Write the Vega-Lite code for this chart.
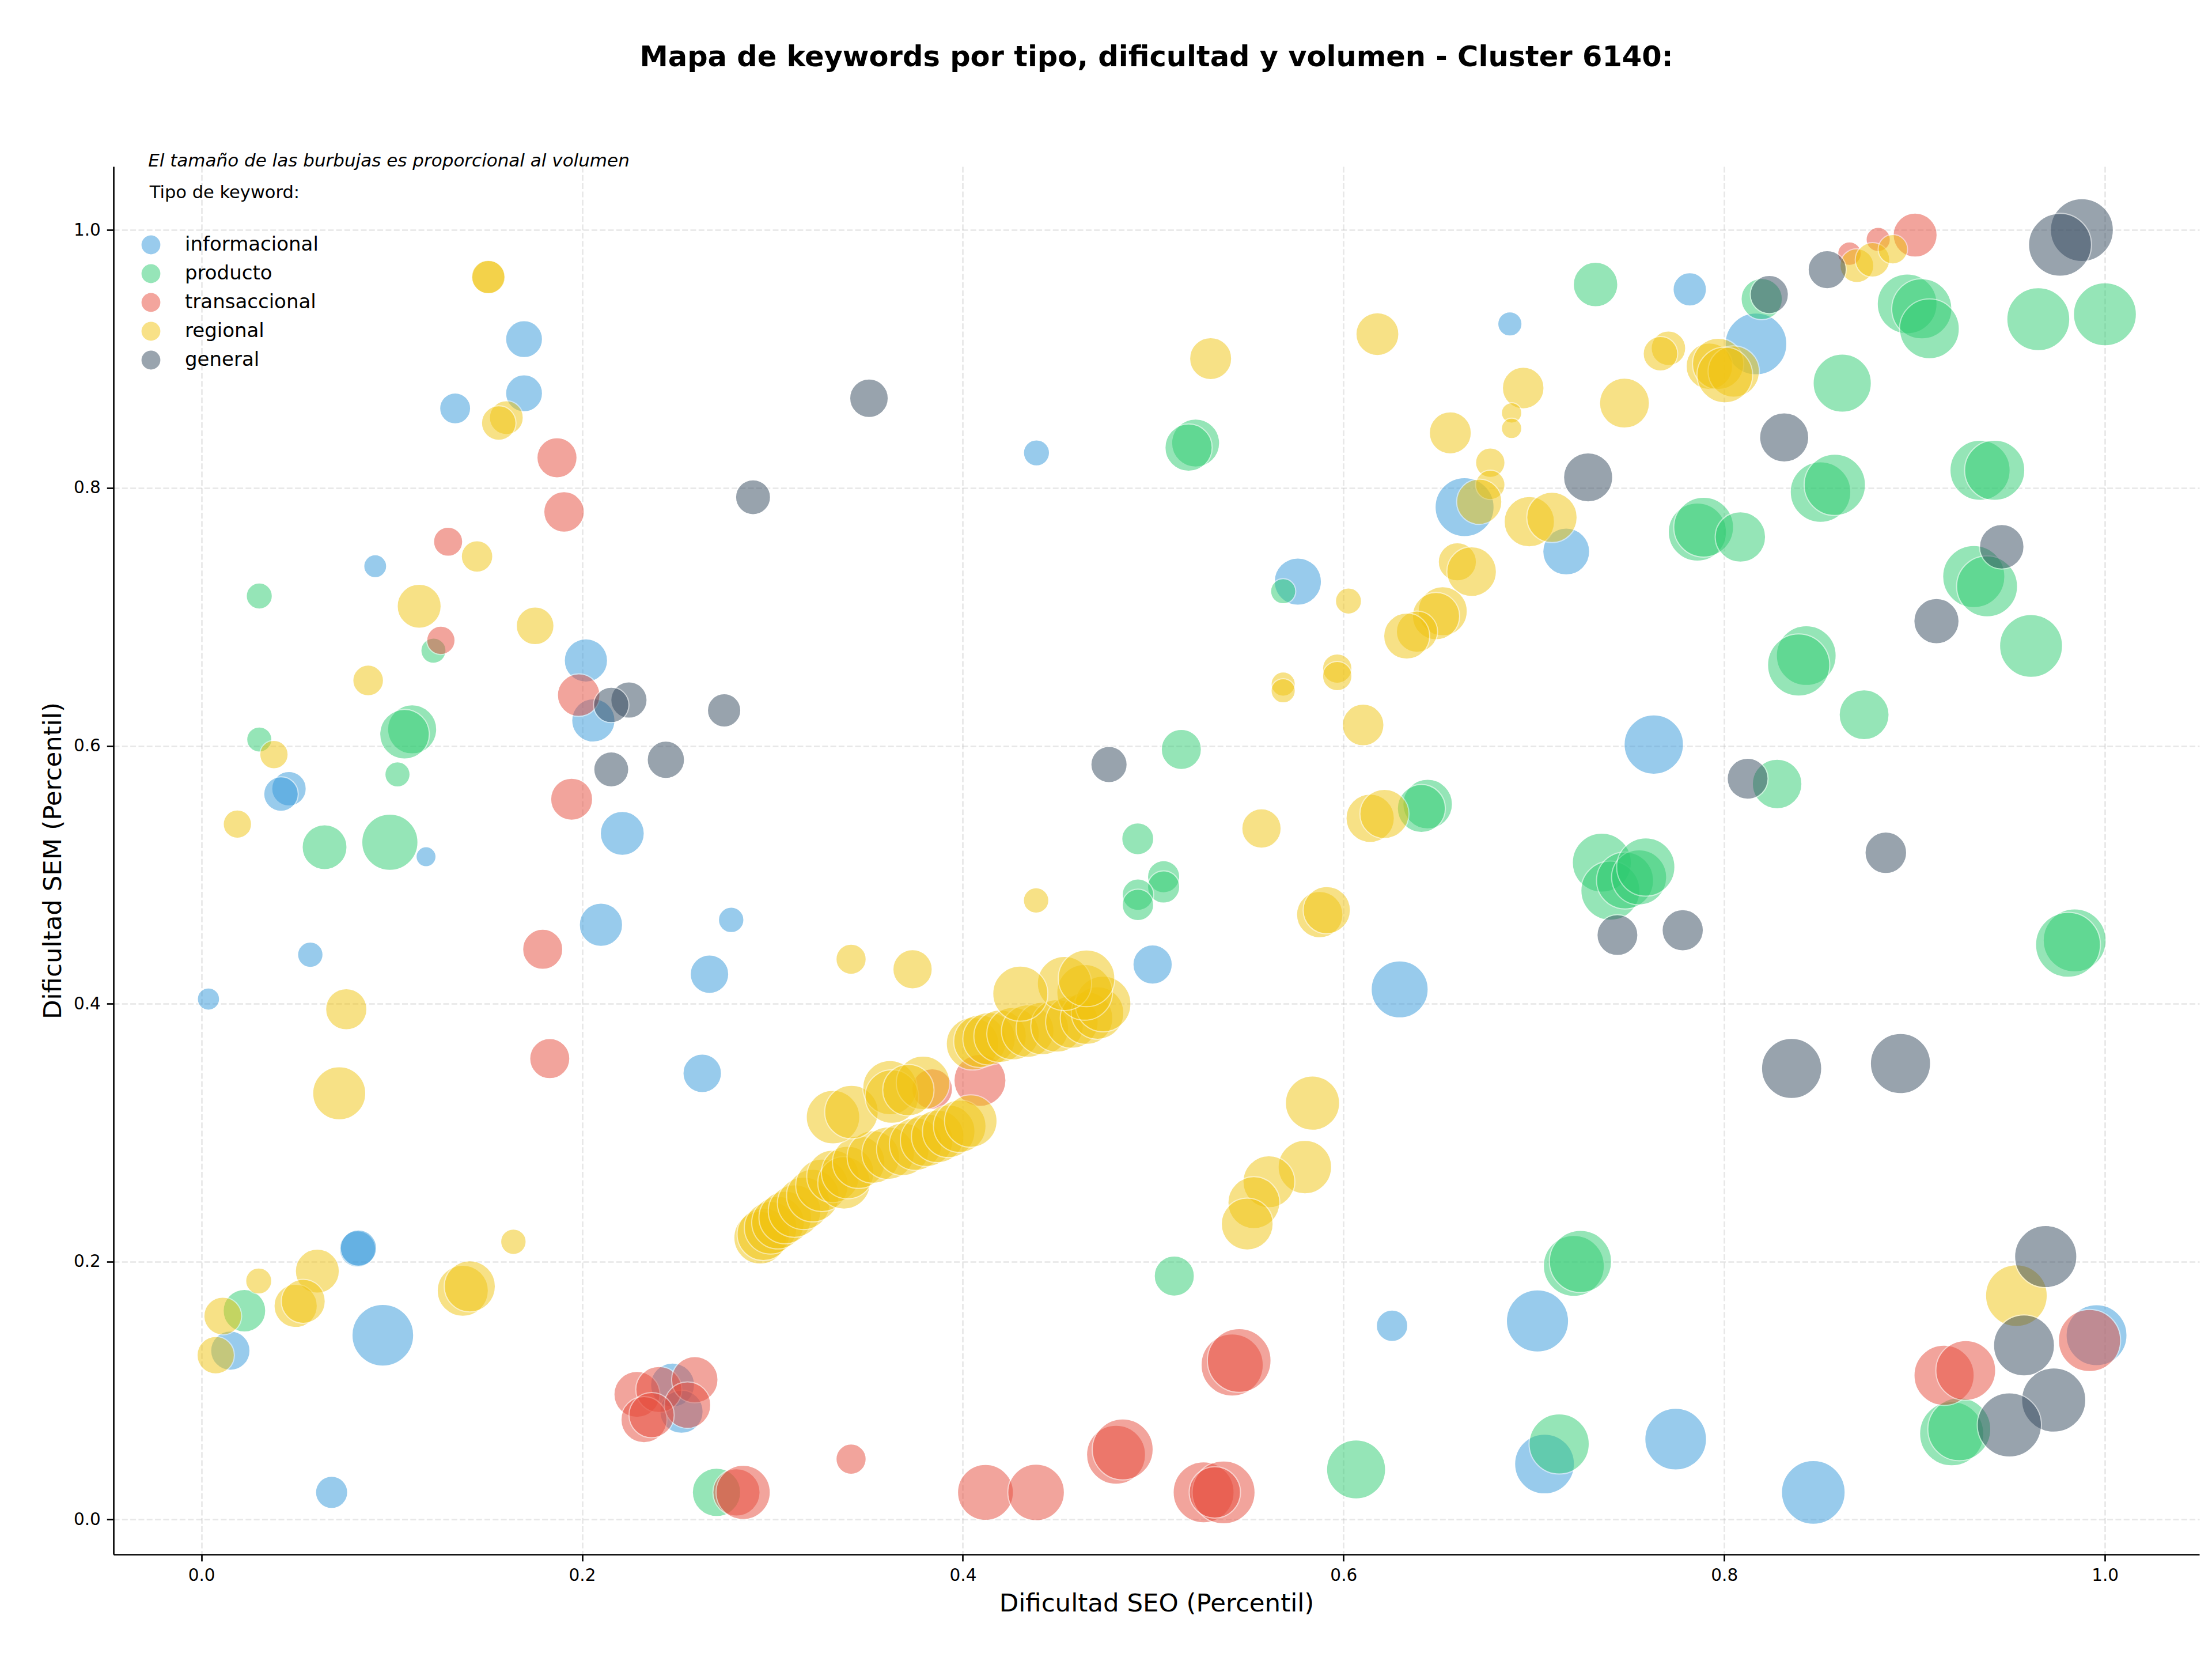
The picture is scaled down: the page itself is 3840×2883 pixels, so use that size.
{
"$schema": "https://vega.github.io/schema/vega-lite/v6.json",
"width": 3621, "height": 2409,
"autosize": {"type": "none"},
"padding": {"left": 197, "top": 289, "right": 22, "bottom": 185},
"background": "white",
"title": {"text": "Mapa de keywords por tipo, dificultad y volumen - Cluster 6140:", "anchor": "middle", "frame": "group", "baseline": "alphabetic", "offset": 100, "fontSize": 49.5, "font": "DejaVu Sans", "fontWeight": "bold", "color": "black"},
"layer": [
{
"data": {"values": [
{"tipo":"informacional","seo":0.1695,"sem":0.9154,"volumen":88},
{"tipo":"informacional","seo":0.1695,"sem":0.8734,"volumen":88},
{"tipo":"informacional","seo":0.1333,"sem":0.8617,"volumen":62},
{"tipo":"informacional","seo":0.0913,"sem":0.7393,"volumen":34},
{"tipo":"informacional","seo":0.2020,"sem":0.6662,"volumen":121},
{"tipo":"informacional","seo":0.2059,"sem":0.6197,"volumen":121},
{"tipo":"informacional","seo":0.0460,"sem":0.5667,"volumen":77},
{"tipo":"informacional","seo":0.0418,"sem":0.5626,"volumen":77},
{"tipo":"informacional","seo":0.2211,"sem":0.5321,"volumen":125},
{"tipo":"informacional","seo":0.1180,"sem":0.5140,"volumen":26},
{"tipo":"informacional","seo":0.4387,"sem":0.8272,"volumen":44},
{"tipo":"informacional","seo":0.6636,"sem":0.7851,"volumen":225},
{"tipo":"informacional","seo":0.5760,"sem":0.7274,"volumen":144},
{"tipo":"informacional","seo":0.6874,"sem":0.9272,"volumen":38},
{"tipo":"informacional","seo":0.7819,"sem":0.9540,"volumen":72},
{"tipo":"informacional","seo":0.8167,"sem":0.9117,"volumen":246},
{"tipo":"informacional","seo":0.7170,"sem":0.7507,"volumen":142},
{"tipo":"informacional","seo":0.7630,"sem":0.6010,"volumen":228},
{"tipo":"informacional","seo":0.2099,"sem":0.4612,"volumen":121},
{"tipo":"informacional","seo":0.0572,"sem":0.4380,"volumen":42},
{"tipo":"informacional","seo":0.2783,"sem":0.4650,"volumen":42},
{"tipo":"informacional","seo":0.2669,"sem":0.4229,"volumen":96},
{"tipo":"informacional","seo":0.0037,"sem":0.4036,"volumen":32},
{"tipo":"informacional","seo":0.2631,"sem":0.3460,"volumen":96},
{"tipo":"informacional","seo":0.0820,"sem":0.2098,"volumen":85},
{"tipo":"informacional","seo":0.0825,"sem":0.2105,"volumen":85},
{"tipo":"informacional","seo":0.0152,"sem":0.1309,"volumen":100},
{"tipo":"informacional","seo":0.0953,"sem":0.1429,"volumen":246},
{"tipo":"informacional","seo":0.0684,"sem":0.0210,"volumen":67},
{"tipo":"informacional","seo":0.2475,"sem":0.1043,"volumen":125},
{"tipo":"informacional","seo":0.2522,"sem":0.0836,"volumen":121},
{"tipo":"informacional","seo":0.4997,"sem":0.4304,"volumen":100},
{"tipo":"informacional","seo":0.6295,"sem":0.4111,"volumen":210},
{"tipo":"informacional","seo":0.6255,"sem":0.1502,"volumen":64},
{"tipo":"informacional","seo":0.7019,"sem":0.1540,"volumen":250},
{"tipo":"informacional","seo":0.9956,"sem":0.1429,"volumen":240},
{"tipo":"informacional","seo":0.7056,"sem":0.0430,"volumen":231},
{"tipo":"informacional","seo":0.7745,"sem":0.0623,"volumen":246},
{"tipo":"informacional","seo":0.8468,"sem":0.0210,"volumen":262},
{"tipo":"producto","seo":0.0304,"sem":0.7162,"volumen":44},
{"tipo":"producto","seo":0.1219,"sem":0.6738,"volumen":41},
{"tipo":"producto","seo":0.1107,"sem":0.6128,"volumen":156},
{"tipo":"producto","seo":0.1067,"sem":0.6090,"volumen":159},
{"tipo":"producto","seo":0.0304,"sem":0.6049,"volumen":41},
{"tipo":"producto","seo":0.1030,"sem":0.5778,"volumen":41},
{"tipo":"producto","seo":0.0647,"sem":0.5214,"volumen":130},
{"tipo":"producto","seo":0.0990,"sem":0.5252,"volumen":204},
{"tipo":"producto","seo":0.5223,"sem":0.8348,"volumen":149},
{"tipo":"producto","seo":0.5186,"sem":0.8313,"volumen":144},
{"tipo":"producto","seo":0.5683,"sem":0.7199,"volumen":41},
{"tipo":"producto","seo":0.5148,"sem":0.5972,"volumen":104},
{"tipo":"producto","seo":0.4919,"sem":0.5279,"volumen":66},
{"tipo":"producto","seo":0.6442,"sem":0.5548,"volumen":159},
{"tipo":"producto","seo":0.6409,"sem":0.5514,"volumen":149},
{"tipo":"producto","seo":0.7324,"sem":0.9578,"volumen":128},
{"tipo":"producto","seo":0.8197,"sem":0.9465,"volumen":110},
{"tipo":"producto","seo":0.8961,"sem":0.9427,"volumen":231},
{"tipo":"producto","seo":0.9038,"sem":0.9389,"volumen":234},
{"tipo":"producto","seo":0.9078,"sem":0.9234,"volumen":231},
{"tipo":"producto","seo":0.9650,"sem":0.9309,"volumen":256},
{"tipo":"producto","seo":1.0000,"sem":0.9347,"volumen":256},
{"tipo":"producto","seo":0.8620,"sem":0.8813,"volumen":219},
{"tipo":"producto","seo":0.7859,"sem":0.7658,"volumen":219},
{"tipo":"producto","seo":0.7892,"sem":0.7696,"volumen":231},
{"tipo":"producto","seo":0.8085,"sem":0.7620,"volumen":164},
{"tipo":"producto","seo":0.8506,"sem":0.7968,"volumen":237},
{"tipo":"producto","seo":0.8581,"sem":0.8024,"volumen":243},
{"tipo":"producto","seo":0.9344,"sem":0.8137,"volumen":234},
{"tipo":"producto","seo":0.9421,"sem":0.8137,"volumen":234},
{"tipo":"producto","seo":0.9311,"sem":0.7313,"volumen":250},
{"tipo":"producto","seo":0.9381,"sem":0.7237,"volumen":240},
{"tipo":"producto","seo":0.9612,"sem":0.6775,"volumen":256},
{"tipo":"producto","seo":0.8431,"sem":0.6700,"volumen":231},
{"tipo":"producto","seo":0.8391,"sem":0.6627,"volumen":250},
{"tipo":"producto","seo":0.8735,"sem":0.6241,"volumen":161},
{"tipo":"producto","seo":0.8278,"sem":0.5704,"volumen":159},
{"tipo":"producto","seo":0.5055,"sem":0.4985,"volumen":67},
{"tipo":"producto","seo":0.5055,"sem":0.4905,"volumen":67},
{"tipo":"producto","seo":0.4920,"sem":0.4846,"volumen":64},
{"tipo":"producto","seo":0.4920,"sem":0.4766,"volumen":64},
{"tipo":"producto","seo":0.5111,"sem":0.1888,"volumen":104},
{"tipo":"producto","seo":0.6066,"sem":0.0388,"volumen":225},
{"tipo":"producto","seo":0.7357,"sem":0.5094,"volumen":225},
{"tipo":"producto","seo":0.7402,"sem":0.4877,"volumen":225},
{"tipo":"producto","seo":0.7479,"sem":0.4956,"volumen":210},
{"tipo":"producto","seo":0.7553,"sem":0.4980,"volumen":196},
{"tipo":"producto","seo":0.7588,"sem":0.5060,"volumen":219},
{"tipo":"producto","seo":0.9841,"sem":0.4491,"volumen":256},
{"tipo":"producto","seo":0.9806,"sem":0.4457,"volumen":272},
{"tipo":"producto","seo":0.7210,"sem":0.1967,"volumen":240},
{"tipo":"producto","seo":0.7245,"sem":0.2001,"volumen":250},
{"tipo":"producto","seo":0.9195,"sem":0.0665,"volumen":266},
{"tipo":"producto","seo":0.9235,"sem":0.0700,"volumen":256},
{"tipo":"producto","seo":0.7133,"sem":0.0586,"volumen":234},
{"tipo":"producto","seo":0.0226,"sem":0.1619,"volumen":117},
{"tipo":"producto","seo":0.2706,"sem":0.0210,"volumen":151},
{"tipo":"transaccional","seo":0.1868,"sem":0.8234,"volumen":104},
{"tipo":"transaccional","seo":0.1905,"sem":0.7814,"volumen":106},
{"tipo":"transaccional","seo":0.1296,"sem":0.7583,"volumen":55},
{"tipo":"transaccional","seo":0.1258,"sem":0.6818,"volumen":52},
{"tipo":"transaccional","seo":0.1982,"sem":0.6393,"volumen":117},
{"tipo":"transaccional","seo":0.1945,"sem":0.5586,"volumen":114},
{"tipo":"transaccional","seo":0.8658,"sem":0.9817,"volumen":36},
{"tipo":"transaccional","seo":0.8809,"sem":0.9927,"volumen":38},
{"tipo":"transaccional","seo":0.9003,"sem":0.9961,"volumen":125},
{"tipo":"transaccional","seo":0.1793,"sem":0.4422,"volumen":104},
{"tipo":"transaccional","seo":0.1830,"sem":0.3574,"volumen":104},
{"tipo":"transaccional","seo":0.2288,"sem":0.0970,"volumen":137},
{"tipo":"transaccional","seo":0.2403,"sem":0.1008,"volumen":137},
{"tipo":"transaccional","seo":0.2592,"sem":0.1084,"volumen":139},
{"tipo":"transaccional","seo":0.2554,"sem":0.0887,"volumen":139},
{"tipo":"transaccional","seo":0.2325,"sem":0.0774,"volumen":137},
{"tipo":"transaccional","seo":0.2365,"sem":0.0809,"volumen":132},
{"tipo":"transaccional","seo":0.2811,"sem":0.0210,"volumen":144},
{"tipo":"transaccional","seo":0.2846,"sem":0.0210,"volumen":190},
{"tipo":"transaccional","seo":0.3839,"sem":0.3338,"volumen":107},
{"tipo":"transaccional","seo":0.4090,"sem":0.3405,"volumen":175},
{"tipo":"transaccional","seo":0.5415,"sem":0.1198,"volumen":250},
{"tipo":"transaccional","seo":0.5452,"sem":0.1233,"volumen":262},
{"tipo":"transaccional","seo":0.3413,"sem":0.0468,"volumen":59},
{"tipo":"transaccional","seo":0.4119,"sem":0.0210,"volumen":202},
{"tipo":"transaccional","seo":0.4385,"sem":0.0210,"volumen":207},
{"tipo":"transaccional","seo":0.4805,"sem":0.0502,"volumen":225},
{"tipo":"transaccional","seo":0.4840,"sem":0.0543,"volumen":240},
{"tipo":"transaccional","seo":0.5265,"sem":0.0210,"volumen":240},
{"tipo":"transaccional","seo":0.5370,"sem":0.0210,"volumen":256},
{"tipo":"transaccional","seo":0.5324,"sem":0.0210,"volumen":170},
{"tipo":"transaccional","seo":0.9919,"sem":0.1388,"volumen":250},
{"tipo":"transaccional","seo":0.9155,"sem":0.1118,"volumen":234},
{"tipo":"transaccional","seo":0.9269,"sem":0.1156,"volumen":231},
{"tipo":"regional","seo":0.1506,"sem":0.9637,"volumen":72},
{"tipo":"regional","seo":0.1508,"sem":0.9635,"volumen":72},
{"tipo":"regional","seo":0.1602,"sem":0.8545,"volumen":74},
{"tipo":"regional","seo":0.1562,"sem":0.8503,"volumen":77},
{"tipo":"regional","seo":0.1448,"sem":0.7469,"volumen":64},
{"tipo":"regional","seo":0.1144,"sem":0.7083,"volumen":125},
{"tipo":"regional","seo":0.1753,"sem":0.6931,"volumen":92},
{"tipo":"regional","seo":0.0876,"sem":0.6507,"volumen":61},
{"tipo":"regional","seo":0.0381,"sem":0.5932,"volumen":52},
{"tipo":"regional","seo":0.0189,"sem":0.5393,"volumen":52},
{"tipo":"regional","seo":0.5302,"sem":0.9003,"volumen":114},
{"tipo":"regional","seo":0.6178,"sem":0.9193,"volumen":119},
{"tipo":"regional","seo":0.6561,"sem":0.8427,"volumen":114},
{"tipo":"regional","seo":0.6771,"sem":0.8196,"volumen":56},
{"tipo":"regional","seo":0.6771,"sem":0.8024,"volumen":56},
{"tipo":"regional","seo":0.6713,"sem":0.7893,"volumen":132},
{"tipo":"regional","seo":0.6598,"sem":0.7427,"volumen":94},
{"tipo":"regional","seo":0.6673,"sem":0.7351,"volumen":159},
{"tipo":"regional","seo":0.6026,"sem":0.7123,"volumen":44},
{"tipo":"regional","seo":0.6521,"sem":0.7044,"volumen":156},
{"tipo":"regional","seo":0.6486,"sem":0.7006,"volumen":144},
{"tipo":"regional","seo":0.6386,"sem":0.6885,"volumen":110},
{"tipo":"regional","seo":0.6332,"sem":0.6851,"volumen":137},
{"tipo":"regional","seo":0.5967,"sem":0.6599,"volumen":56},
{"tipo":"regional","seo":0.5967,"sem":0.6541,"volumen":56},
{"tipo":"regional","seo":0.5683,"sem":0.6479,"volumen":38},
{"tipo":"regional","seo":0.5683,"sem":0.6427,"volumen":38},
{"tipo":"regional","seo":0.6103,"sem":0.6162,"volumen":112},
{"tipo":"regional","seo":0.5569,"sem":0.5359,"volumen":100},
{"tipo":"regional","seo":0.6140,"sem":0.5438,"volumen":151},
{"tipo":"regional","seo":0.6215,"sem":0.5472,"volumen":156},
{"tipo":"regional","seo":0.7707,"sem":0.9083,"volumen":77},
{"tipo":"regional","seo":0.7665,"sem":0.9041,"volumen":77},
{"tipo":"regional","seo":0.7922,"sem":0.8944,"volumen":140},
{"tipo":"regional","seo":0.7968,"sem":0.8962,"volumen":170},
{"tipo":"regional","seo":0.8050,"sem":0.8903,"volumen":170},
{"tipo":"regional","seo":0.8003,"sem":0.8876,"volumen":200},
{"tipo":"regional","seo":0.6944,"sem":0.8775,"volumen":112},
{"tipo":"regional","seo":0.6883,"sem":0.8582,"volumen":27},
{"tipo":"regional","seo":0.6883,"sem":0.8462,"volumen":27},
{"tipo":"regional","seo":0.7476,"sem":0.8658,"volumen":161},
{"tipo":"regional","seo":0.8697,"sem":0.9724,"volumen":74},
{"tipo":"regional","seo":0.8779,"sem":0.9769,"volumen":77},
{"tipo":"regional","seo":0.8886,"sem":0.9851,"volumen":56},
{"tipo":"regional","seo":0.6976,"sem":0.7738,"volumen":164},
{"tipo":"regional","seo":0.7095,"sem":0.7772,"volumen":164},
{"tipo":"regional","seo":0.0761,"sem":0.3957,"volumen":110},
{"tipo":"regional","seo":0.0724,"sem":0.3305,"volumen":182},
{"tipo":"regional","seo":0.1639,"sem":0.2154,"volumen":42},
{"tipo":"regional","seo":0.0609,"sem":0.1926,"volumen":125},
{"tipo":"regional","seo":0.0301,"sem":0.1850,"volumen":44},
{"tipo":"regional","seo":0.0112,"sem":0.1578,"volumen":92},
{"tipo":"regional","seo":0.0495,"sem":0.1657,"volumen":121},
{"tipo":"regional","seo":0.0535,"sem":0.1692,"volumen":125},
{"tipo":"regional","seo":0.0075,"sem":0.1274,"volumen":90},
{"tipo":"regional","seo":0.1373,"sem":0.1774,"volumen":169},
{"tipo":"regional","seo":0.1410,"sem":0.1808,"volumen":169},
{"tipo":"regional","seo":0.4385,"sem":0.4801,"volumen":42},
{"tipo":"regional","seo":0.5875,"sem":0.4691,"volumen":139},
{"tipo":"regional","seo":0.5912,"sem":0.4726,"volumen":144},
{"tipo":"regional","seo":0.3413,"sem":0.4345,"volumen":59},
{"tipo":"regional","seo":0.3736,"sem":0.4267,"volumen":100},
{"tipo":"regional","seo":0.5837,"sem":0.3229,"volumen":190},
{"tipo":"regional","seo":0.5797,"sem":0.2733,"volumen":185},
{"tipo":"regional","seo":0.5608,"sem":0.2619,"volumen":174},
{"tipo":"regional","seo":0.5529,"sem":0.2457,"volumen":174},
{"tipo":"regional","seo":0.5494,"sem":0.2291,"volumen":174},
{"tipo":"regional","seo":0.2935,"sem":0.2185,"volumen":178},
{"tipo":"regional","seo":0.2952,"sem":0.2212,"volumen":178},
{"tipo":"regional","seo":0.2990,"sem":0.2262,"volumen":178},
{"tipo":"regional","seo":0.3029,"sem":0.2302,"volumen":178},
{"tipo":"regional","seo":0.3067,"sem":0.2342,"volumen":178},
{"tipo":"regional","seo":0.3116,"sem":0.2392,"volumen":178},
{"tipo":"regional","seo":0.3164,"sem":0.2452,"volumen":178},
{"tipo":"regional","seo":0.3212,"sem":0.2512,"volumen":178},
{"tipo":"regional","seo":0.3260,"sem":0.2592,"volumen":178},
{"tipo":"regional","seo":0.3318,"sem":0.2661,"volumen":178},
{"tipo":"regional","seo":0.3376,"sem":0.2611,"volumen":178},
{"tipo":"regional","seo":0.3395,"sem":0.2691,"volumen":178},
{"tipo":"regional","seo":0.3453,"sem":0.2771,"volumen":178},
{"tipo":"regional","seo":0.3530,"sem":0.2811,"volumen":178},
{"tipo":"regional","seo":0.3608,"sem":0.2841,"volumen":178},
{"tipo":"regional","seo":0.3685,"sem":0.2871,"volumen":178},
{"tipo":"regional","seo":0.3752,"sem":0.2911,"volumen":178},
{"tipo":"regional","seo":0.3810,"sem":0.2941,"volumen":178},
{"tipo":"regional","seo":0.3868,"sem":0.2971,"volumen":178},
{"tipo":"regional","seo":0.3926,"sem":0.3010,"volumen":178},
{"tipo":"regional","seo":0.3984,"sem":0.3050,"volumen":178},
{"tipo":"regional","seo":0.4042,"sem":0.3090,"volumen":178},
{"tipo":"regional","seo":0.3318,"sem":0.3120,"volumen":185},
{"tipo":"regional","seo":0.3415,"sem":0.3160,"volumen":185},
{"tipo":"regional","seo":0.3617,"sem":0.3349,"volumen":190},
{"tipo":"regional","seo":0.3627,"sem":0.3280,"volumen":185},
{"tipo":"regional","seo":0.3791,"sem":0.3386,"volumen":185},
{"tipo":"regional","seo":0.3714,"sem":0.3330,"volumen":170},
{"tipo":"regional","seo":0.4051,"sem":0.3689,"volumen":178},
{"tipo":"regional","seo":0.4090,"sem":0.3709,"volumen":178},
{"tipo":"regional","seo":0.4138,"sem":0.3728,"volumen":178},
{"tipo":"regional","seo":0.4196,"sem":0.3748,"volumen":178},
{"tipo":"regional","seo":0.4264,"sem":0.3768,"volumen":178},
{"tipo":"regional","seo":0.4341,"sem":0.3788,"volumen":178},
{"tipo":"regional","seo":0.4418,"sem":0.3808,"volumen":178},
{"tipo":"regional","seo":0.4495,"sem":0.3828,"volumen":178},
{"tipo":"regional","seo":0.4573,"sem":0.3858,"volumen":178},
{"tipo":"regional","seo":0.4650,"sem":0.3888,"volumen":178},
{"tipo":"regional","seo":0.4708,"sem":0.3928,"volumen":178},
{"tipo":"regional","seo":0.4737,"sem":0.3998,"volumen":200},
{"tipo":"regional","seo":0.4640,"sem":0.4088,"volumen":200},
{"tipo":"regional","seo":0.4534,"sem":0.4157,"volumen":190},
{"tipo":"regional","seo":0.4650,"sem":0.4197,"volumen":207},
{"tipo":"regional","seo":0.4302,"sem":0.4078,"volumen":196},
{"tipo":"regional","seo":0.9535,"sem":0.1736,"volumen":246},
{"tipo":"general","seo":0.2898,"sem":0.7928,"volumen":79},
{"tipo":"general","seo":0.2246,"sem":0.6355,"volumen":85},
{"tipo":"general","seo":0.2153,"sem":0.6317,"volumen":81},
{"tipo":"general","seo":0.2746,"sem":0.6275,"volumen":72},
{"tipo":"general","seo":0.2440,"sem":0.5892,"volumen":90},
{"tipo":"general","seo":0.2153,"sem":0.5817,"volumen":79},
{"tipo":"general","seo":0.3507,"sem":0.8696,"volumen":96},
{"tipo":"general","seo":0.4768,"sem":0.5855,"volumen":85},
{"tipo":"general","seo":0.8237,"sem":0.9500,"volumen":94},
{"tipo":"general","seo":0.8541,"sem":0.9693,"volumen":94},
{"tipo":"general","seo":0.9879,"sem":1.0000,"volumen":256},
{"tipo":"general","seo":0.9764,"sem":0.9886,"volumen":256},
{"tipo":"general","seo":0.8315,"sem":0.8392,"volumen":156},
{"tipo":"general","seo":0.7285,"sem":0.8082,"volumen":156},
{"tipo":"general","seo":0.9458,"sem":0.7544,"volumen":128},
{"tipo":"general","seo":0.9115,"sem":0.6967,"volumen":132},
{"tipo":"general","seo":0.8123,"sem":0.5745,"volumen":108},
{"tipo":"general","seo":0.8849,"sem":0.5171,"volumen":112},
{"tipo":"general","seo":0.7439,"sem":0.4532,"volumen":108},
{"tipo":"general","seo":0.7782,"sem":0.4570,"volumen":110},
{"tipo":"general","seo":0.8354,"sem":0.3498,"volumen":234},
{"tipo":"general","seo":0.8926,"sem":0.3536,"volumen":234},
{"tipo":"general","seo":0.9689,"sem":0.2039,"volumen":250},
{"tipo":"general","seo":0.9575,"sem":0.1350,"volumen":240},
{"tipo":"general","seo":0.9731,"sem":0.0926,"volumen":266},
{"tipo":"general","seo":0.9498,"sem":0.0733,"volumen":266}
]},
"mark": {"type": "point", "shape": "circle", "filled": true, "opacity": 0.5, "stroke": "white", "strokeWidth": 2},
"encoding": {
"x": {"field": "seo", "type": "quantitative", "scale": {"domain": [-0.0462, 1.0496], "nice": false, "zero": false},
"axis": {"title": "Dificultad SEO (Percentil)", "values": [0, 0.2, 0.4, 0.6, 0.8, 1.0], "format": ".1f"}},
"y": {"field": "sem", "type": "quantitative", "scale": {"domain": [-0.0271, 1.0493], "nice": false, "zero": false},
"axis": {"title": "Dificultad SEM (Percentil)", "values": [0, 0.2, 0.4, 0.6, 0.8, 1.0], "format": ".1f"}},
"color": {"field": "tipo", "type": "nominal",
"scale": {"domain": ["informacional", "producto", "transaccional", "regional", "general"], "range": ["#3498db", "#2ecc71", "#e74c3c", "#f1c40f", "#34495e"]},
"legend": {"orient": "none", "legendX": 48, "legendY": 119, "title": null, "padding": 0, "symbolType": "circle", "symbolSize": 1075, "symbolOpacity": 0.5, "symbolStrokeWidth": 0, "labelFontSize": 34, "labelFont": "DejaVu Sans", "labelColor": "black", "labelOffset": 42, "labelLimit": 0, "rowPadding": 16}},
"size": {"field": "volumen", "type": "quantitative", "scale": {"type": "linear", "domain": [0, 300], "range": [0, 14025], "zero": true}, "legend": null}
}
},
{
"data": {"values": [{}]},
"mark": {"type": "text", "align": "left", "baseline": "alphabetic", "fontSize": 31, "fontStyle": "italic", "font": "DejaVu Sans", "color": "black", "text": "El tamaño de las burbujas es proporcional al volumen"},
"encoding": {"x": {"datum": -0.028, "type": "quantitative"}, "y": {"datum": 1.0491, "type": "quantitative"}}
},
{
"data": {"values": [{}]},
"mark": {"type": "text", "align": "left", "baseline": "alphabetic", "fontSize": 30.5, "font": "DejaVu Sans", "color": "black", "text": "Tipo de keyword:"},
"encoding": {"x": {"datum": -0.0272, "type": "quantitative"}, "y": {"datum": 1.0246, "type": "quantitative"}}
}
],
"resolve": {"scale": {"x": "shared", "y": "shared"}},
"config": {
"view": {"stroke": null},
"font": "DejaVu Sans",
"axis": {"labelFontSize": 29.5, "labelFont": "DejaVu Sans", "labelColor": "black", "labelPadding": 11, "tickSize": 11.7, "tickWidth": 2.67, "tickColor": "black", "domainColor": "black", "domainWidth": 2.67, "grid": true, "gridColor": "#b0b0b0", "gridOpacity": 0.3, "gridWidth": 2.67, "gridDash": [10, 4.3], "titleFontSize": 43.5, "titleFont": "DejaVu Sans", "titleFontWeight": "normal", "titleColor": "black", "titlePadding": 13}
}
}
